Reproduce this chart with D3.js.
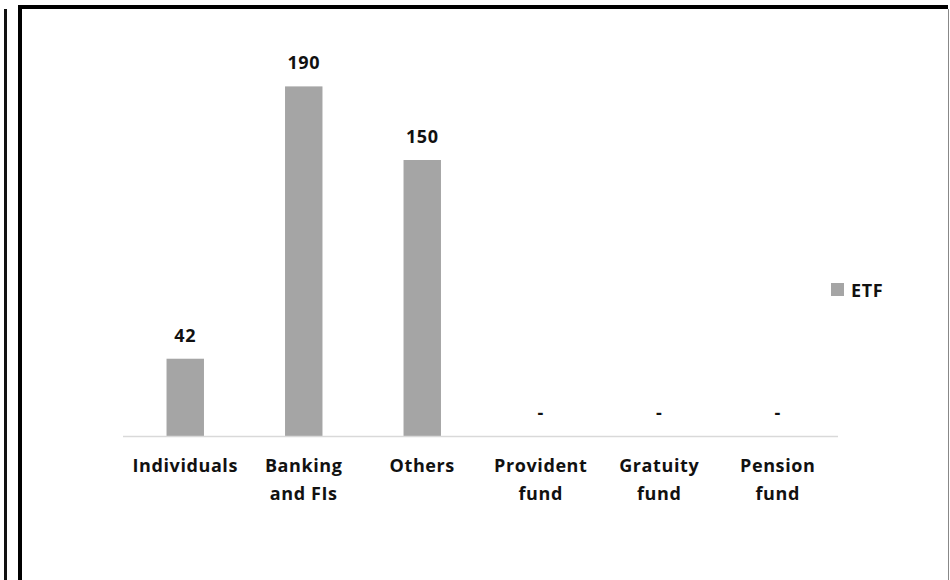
<!DOCTYPE html>
<html>
<head>
<meta charset="utf-8">
<script src="https://cdn.jsdelivr.net/npm/d3@7"></script>
<style>
  body { margin: 0; background: #fff; }
  text { font-family: "Open Sans", "DejaVu Sans", sans-serif; font-weight: bold; fill: #111; letter-spacing: 0.6px; }
</style>
</head>
<body>
<div id="chart"></div>
<script>
// chart data
var categories = ["Individuals", "Banking\nand FIs", "Others", "Provident\nfund", "Gratuity\nfund", "Pension\nfund"];
var etfValues = [42, 190, 150, 0, 0, 0];
var seriesName = "ETF";

var svgWidth = 950;
var svgHeight = 580;

var svg = d3.select("#chart")
  .append("svg")
  .attr("width", svgWidth)
  .attr("height", svgHeight);

// frames (the panel border and the edge of the neighbouring panel)
svg.append("line")
  .attr("x1", 5.5).attr("x2", 5.5)
  .attr("y1", 9).attr("y2", svgHeight)
  .attr("stroke", "#111").attr("stroke-width", 3);
svg.append("line")
  .attr("x1", 18).attr("x2", 948)
  .attr("y1", 7).attr("y2", 7)
  .attr("stroke", "#000").attr("stroke-width", 4);
svg.append("line")
  .attr("x1", 20).attr("x2", 20)
  .attr("y1", 5).attr("y2", svgHeight)
  .attr("stroke", "#000").attr("stroke-width", 4);
svg.append("line")
  .attr("x1", 948.5).attr("x2", 948.5)
  .attr("y1", 9).attr("y2", svgHeight)
  .attr("stroke", "#888").attr("stroke-width", 1);

// plot area
var plotLeft = 126, plotRight = 837, baseY = 436, topY = 68;

var x = d3.scaleBand()
  .domain(categories)
  .range([plotLeft, plotRight])
  .paddingInner(0.684)
  .paddingOuter(0.342);

var y = d3.scaleLinear()
  .domain([0, 200])
  .range([baseY, topY]);

var data = categories.map(function(c, i) { return { cat: c, value: etfValues[i] }; });

// bars
svg.selectAll("rect.bar")
  .data(data)
  .enter()
  .append("rect")
  .attr("class", "bar")
  .attr("x", d => x(d.cat))
  .attr("width", x.bandwidth())
  .attr("y", d => y(d.value))
  .attr("height", d => baseY - y(d.value))
  .attr("fill", "#a5a5a5");

// axis line
svg.append("line")
  .attr("x1", plotLeft - 3).attr("x2", plotRight + 1)
  .attr("y1", baseY + 0.5).attr("y2", baseY + 0.5)
  .attr("stroke", "#d9d9d9").attr("stroke-width", 1.5);

// value labels
svg.selectAll("text.val")
  .data(data)
  .enter()
  .append("text")
  .attr("class", "val")
  .attr("x", d => x(d.cat) + x.bandwidth() / 2)
  .attr("y", d => y(d.value) - 17)
  .attr("text-anchor", "middle")
  .style("font-size", "18px")
  .text(d => d.value === 0 ? "-" : d.value);

// category labels
var catLabels = svg.selectAll("text.cat")
  .data(data)
  .enter()
  .append("text")
  .attr("class", "cat")
  .attr("text-anchor", "middle")
  .style("font-size", "18px");

catLabels.selectAll("tspan")
  .data(d => d.cat.split("\n").map(function(line) { return { line: line, cx: x(d.cat) + x.bandwidth() / 2 }; }))
  .enter()
  .append("tspan")
  .attr("x", d => d.cx)
  .attr("y", (d, i) => 472 + i * 28)
  .text(d => d.line);

// legend
svg.append("rect")
  .attr("x", 831).attr("y", 283)
  .attr("width", 13).attr("height", 13)
  .attr("fill", "#a5a5a5");
svg.append("text")
  .attr("x", 851).attr("y", 296.5)
  .style("font-size", "18px")
  .text(seriesName);
</script>
</body>
</html>
